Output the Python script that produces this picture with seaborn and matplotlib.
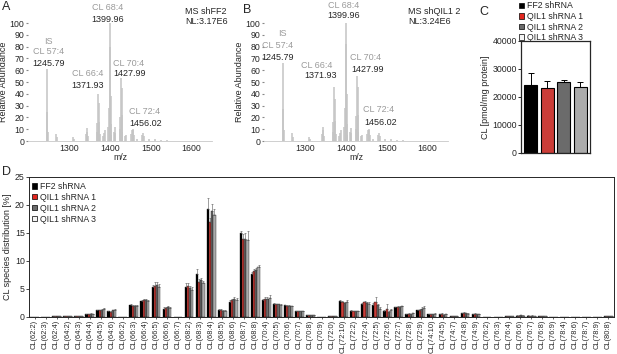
import matplotlib
matplotlib.use('Agg')
import matplotlib.pyplot as plt
import seaborn as sns
import pandas as pd
from matplotlib.patches import Patch

sns.set_style('ticks')
plt.rcParams['font.family'] = ['Liberation Sans', 'DejaVu Sans']
plt.rcParams['font.size'] = 6.3

# ---------------- data ----------------
spec_a_mz = [1245.79, 1246.8, 1247.8, 1268.8, 1269.8, 1311.0, 1313.0, 1341.9, 1343.9, 1344.9,
             1345.9, 1367.9, 1369.9, 1371.93, 1372.93, 1373.93, 1374.9, 1383.9, 1385.9, 1387.9,
             1395.9, 1397.9, 1399.96, 1400.96, 1401.96, 1402.96, 1403.9, 1409.9, 1411.9, 1412.9,
             1423.9, 1425.9, 1427.99, 1428.99, 1429.99, 1430.99, 1437.9, 1439.9, 1451.9, 1453.9,
             1456.02, 1457.02, 1458.02, 1466.0, 1479.9, 1481.9, 1482.9, 1495.0, 1510.0, 1525.0, 1540.0]
spec_a_int = [61, 25, 8, 6, 3, 3, 2, 6, 11, 8,
              4, 8, 15, 40, 32, 16, 6, 4, 7, 9,
              12, 28, 100, 80, 38, 14, 5, 8, 12, 7,
              10, 20, 53, 45, 22, 8, 4, 5, 6, 9,
              10, 9, 5, 2, 5, 7, 4, 1.5, 1.5, 1, 1]
spec_b_mz = spec_a_mz
spec_b_int = [66, 27, 9, 7, 3, 3, 2, 6, 12, 9,
              4, 8, 16, 46, 36, 17, 6, 4, 7, 9,
              12, 28, 100, 82, 40, 14, 5, 8, 11, 7,
              10, 21, 55, 46, 22, 8, 4, 5, 6, 9,
              10, 9, 5, 2, 5, 7, 4, 1.5, 1.5, 1, 1]

groups = ['FF2 shRNA', 'QIL1 shRNA 1', 'QIL1 shRNA 2', 'QIL1 shRNA 3']
colors = ['#000000', '#e3261f', '#6b6b6b', '#ababab']
cl_total = [24200, 23300, 25250, 23700]
cl_total_err = [4500, 2300, 800, 1800]

species = ['CL(62:2)', 'CL(62:3)', 'CL(62:4)', 'CL(64:2)', 'CL(64:3)', 'CL(64:4)', 'CL(64:5)',
           'CL(64:6)', 'CL(66:2)', 'CL(66:3)', 'CL(66:4)', 'CL(66:5)', 'CL(66:6)', 'CL(66:7)',
           'CL(68:2)', 'CL(68:3)', 'CL(68:4)', 'CL(68:5)', 'CL(68:6)', 'CL(68:7)', 'CL(68:8)',
           'CL(70:4)', 'CL(70:5)', 'CL(70:6)', 'CL(70:7)', 'CL(70:8)', 'CL(70:9)', 'CL(72:0)',
           'CL(72:10)', 'CL(72:2)', 'CL(72:4)', 'CL(72:5)', 'CL(72:6)', 'CL(72:7)', 'CL(72:8)',
           'CL(72:9)', 'CL(74:10)', 'CL(74:5)', 'CL(74:7)', 'CL(74:8)', 'CL(74:9)', 'CL(76:2)',
           'CL(76:3)', 'CL(76:4)', 'CL(76:6)', 'CL(76:7)', 'CL(76:8)', 'CL(76:9)', 'CL(78:4)',
           'CL(78:6)', 'CL(78:7)', 'CL(78:9)', 'CL(80:8)']
ff2 = [0.06, 0.03, 0.10, 0.22, 0.10, 0.50, 1.20, 1.00, 0.0, 2.10, 2.80, 5.30, 1.50, 0.0,
       5.40, 7.70, 19.2, 1.30, 2.70, 15.0, 7.70, 3.00, 2.40, 2.10, 1.00, 0.30, 0.05, 0.10,
       2.80, 1.10, 2.30, 2.20, 1.00, 1.70, 0.50, 1.20, 0.50, 0.50, 0.20, 0.70, 0.50, 0.05,
       0.05, 0.10, 0.25, 0.25, 0.15, 0.02, 0.03, 0.03, 0.02, 0.05, 0.10]
sh1 = [0.05, 0.03, 0.10, 0.20, 0.10, 0.55, 1.20, 0.90, 0.0, 2.00, 3.00, 5.60, 1.60, 0.0,
       5.60, 6.30, 16.9, 1.20, 3.00, 14.0, 8.20, 3.30, 2.30, 2.00, 1.00, 0.30, 0.05, 0.10,
       2.60, 1.00, 2.60, 2.60, 1.50, 1.80, 0.60, 1.30, 0.50, 0.60, 0.20, 0.80, 0.60, 0.05,
       0.05, 0.10, 0.25, 0.22, 0.15, 0.02, 0.03, 0.03, 0.02, 0.05, 0.10]
sh2 = [0.04, 0.02, 0.12, 0.22, 0.12, 0.60, 1.30, 1.20, 0.0, 1.90, 3.10, 5.70, 1.70, 0.0,
       5.20, 6.60, 18.9, 1.10, 3.20, 14.0, 8.40, 3.20, 2.30, 2.00, 1.00, 0.35, 0.05, 0.10,
       2.50, 1.00, 2.50, 2.10, 0.90, 1.80, 0.50, 1.50, 0.55, 0.40, 0.20, 0.70, 0.50, 0.05,
       0.05, 0.12, 0.30, 0.25, 0.15, 0.02, 0.03, 0.03, 0.02, 0.05, 0.10]
sh3 = [0.04, 0.03, 0.10, 0.20, 0.10, 0.55, 1.45, 1.25, 0.0, 2.00, 2.90, 5.40, 1.65, 0.0,
       4.90, 6.00, 18.3, 1.10, 3.10, 13.8, 8.90, 3.40, 2.20, 1.90, 1.00, 0.30, 0.05, 0.10,
       2.70, 1.00, 2.40, 1.50, 1.20, 1.90, 0.70, 1.60, 0.60, 0.50, 0.20, 0.60, 0.50, 0.05,
       0.05, 0.10, 0.25, 0.20, 0.15, 0.02, 0.03, 0.03, 0.02, 0.05, 0.10]
ff2_err = [0.01, 0.01, 0.02, 0.03, 0.02, 0.05, 0.10, 0.10, 0.0, 0.20, 0.20, 0.50, 0.20, 0.0,
           0.60, 0.80, 2.10, 0.20, 0.30, 0.30, 0.30, 0.20, 0.10, 0.10, 0.10, 0.05, 0.01, 0.02,
           0.20, 0.10, 0.20, 0.30, 0.20, 0.10, 0.10, 0.10, 0.05, 0.10, 0.03, 0.10, 0.05, 0.01,
           0.01, 0.02, 0.03, 0.03, 0.02, 0.01, 0.01, 0.01, 0.01, 0.01, 0.02]
sh1_err = [0.01, 0.01, 0.02, 0.03, 0.02, 0.05, 0.10, 0.10, 0.0, 0.20, 0.30, 0.60, 0.20, 0.0,
           0.40, 0.40, 0.80, 0.20, 0.30, 0.90, 0.40, 0.30, 0.10, 0.10, 0.10, 0.05, 0.01, 0.02,
           0.30, 0.10, 0.30, 1.00, 0.90, 0.10, 0.10, 0.10, 0.05, 0.10, 0.03, 0.10, 0.05, 0.01,
           0.01, 0.02, 0.03, 0.03, 0.02, 0.01, 0.01, 0.01, 0.01, 0.01, 0.02]
sh2_err = [0.01, 0.01, 0.02, 0.03, 0.02, 0.05, 0.10, 0.10, 0.0, 0.20, 0.20, 0.50, 0.20, 0.0,
           0.40, 0.40, 1.30, 0.10, 0.30, 1.00, 0.40, 0.30, 0.10, 0.10, 0.10, 0.05, 0.01, 0.02,
           0.20, 0.10, 0.20, 0.30, 0.20, 0.10, 0.10, 0.20, 0.05, 0.10, 0.03, 0.10, 0.05, 0.01,
           0.01, 0.02, 0.03, 0.03, 0.02, 0.01, 0.01, 0.01, 0.01, 0.01, 0.02]
sh3_err = [0.01, 0.01, 0.02, 0.03, 0.02, 0.05, 0.10, 0.10, 0.0, 0.20, 0.20, 0.50, 0.20, 0.0,
           0.40, 0.50, 1.00, 0.10, 0.30, 1.50, 0.40, 0.50, 0.10, 0.10, 0.10, 0.05, 0.01, 0.02,
           0.30, 0.10, 0.20, 0.30, 0.30, 0.10, 0.10, 0.30, 0.05, 0.10, 0.03, 0.10, 0.05, 0.01,
           0.01, 0.02, 0.03, 0.03, 0.02, 0.01, 0.01, 0.01, 0.01, 0.01, 0.02]

# ---------------- layout helpers ----------------
W, H = 617, 354
fig = plt.figure(figsize=(W / 100, H / 100), dpi=100)


def ax_px(l, t, r, b):
    return fig.add_axes([l / W, 1 - b / H, (r - l) / W, (b - t) / H])


def txt(x, y, s, **kw):
    kw.setdefault('ha', 'center')
    kw.setdefault('va', 'center')
    fig.text(x / W, 1 - y / H, s, **kw)


GRAY_TXT = '#9a9a9a'
SPEC = '#c4c4c4'


def spectrum(ax, mz, inten):
    ax.vlines(mz, 0, inten, color=SPEC, lw=1.1)
    ax.set_xlim(1200, 1650)
    ax.set_ylim(0, 100)
    ax.set_yticks(range(0, 101, 10))
    ax.set_xticks([1300, 1400, 1500, 1600])
    ax.tick_params(axis='x', length=0, pad=2, labelsize=6.3)
    ax.tick_params(axis='y', length=1.5, pad=1, labelsize=6.3, color='#888888')
    for s in ['top', 'right', 'left']:
        ax.spines[s].set_visible(False)
    ax.spines['bottom'].set_color('#c8c8c8')
    ax.spines['bottom'].set_linewidth(0.6)
    ax.set_ylabel('Relative Abundance', fontsize=6.5, labelpad=1)
    ax.set_xlabel('m/z', fontsize=6.3, labelpad=0)
    ax.patch.set_alpha(0)


# ---------------- panel A ----------------
axA = ax_px(28, 23, 212, 141)
spectrum(axA, spec_a_mz, spec_a_int)
txt(6, 7, 'A', fontsize=9)
txt(48, 42, 'IS', color=GRAY_TXT, fontsize=6.5)
txt(49, 52, 'CL 57:4', color=GRAY_TXT, fontsize=6.5)
txt(49, 63, '1245.79', fontsize=6.5)
txt(88, 73, 'CL 66:4', color=GRAY_TXT, fontsize=6.5)
txt(88, 85, '1371.93', fontsize=6.5)
txt(108, 8, 'CL 68:4', color=GRAY_TXT, fontsize=6.5)
txt(108, 19, '1399.96', fontsize=6.5)
txt(129, 63, 'CL 70:4', color=GRAY_TXT, fontsize=6.5)
txt(130, 74, '1427.99', fontsize=6.5)
txt(145, 112, 'CL 72:4', color=GRAY_TXT, fontsize=6.5)
txt(146, 124, '1456.02', fontsize=6.5)
txt(185, 11, 'MS shFF2', ha='left', fontsize=6.5)
txt(185, 22, 'NL:3.17E6', ha='left', fontsize=6.5)

# ---------------- panel B ----------------
axB = ax_px(264, 23, 448, 141)
spectrum(axB, spec_b_mz, spec_b_int)
txt(247, 10, 'B', fontsize=9)
txt(282, 34, 'IS', color=GRAY_TXT, fontsize=6.5)
txt(278, 45, 'CL 57:4', color=GRAY_TXT, fontsize=6.5)
txt(278, 57, '1245.79', fontsize=6.5)
txt(317, 66, 'CL 66:4', color=GRAY_TXT, fontsize=6.5)
txt(321, 76, '1371.93', fontsize=6.5)
txt(344, 5, 'CL 68:4', color=GRAY_TXT, fontsize=6.5)
txt(344, 16, '1399.96', fontsize=6.5)
txt(366, 57, 'CL 70:4', color=GRAY_TXT, fontsize=6.5)
txt(368, 69, '1427.99', fontsize=6.5)
txt(379, 110, 'CL 72:4', color=GRAY_TXT, fontsize=6.5)
txt(381, 122, '1456.02', fontsize=6.5)
txt(408, 11, 'MS shQIL1 2', ha='left', fontsize=6.5)
txt(408, 22, 'NL:3.24E6', ha='left', fontsize=6.5)

# ---------------- panel C ----------------
axC = ax_px(521, 41, 590, 153)
dfc = pd.DataFrame({'group': groups, 'cl': cl_total})
sns.barplot(data=dfc, x='group', y='cl', hue='group', order=groups, hue_order=groups,
            palette=colors, edgecolor='black', linewidth=0.8, width=0.8,
            errorbar=None, legend=False, ax=axC)
for cont, e in zip(axC.containers, cl_total_err):
    for bar in cont:
        axC.errorbar(bar.get_x() + bar.get_width() / 2, bar.get_height(),
                     yerr=[[0], [e]], fmt='none', ecolor='black', elinewidth=0.7,
                     capsize=2, capthick=0.7)
axC.set_ylim(0, 40000)
axC.set_yticks([0, 10000, 20000, 30000, 40000])
axC.set_xticks([])
axC.set_xlabel('')
axC.set_ylabel('CL [pmol/mg protein]', fontsize=6.5, labelpad=2)
axC.tick_params(axis='y', length=2, pad=1, labelsize=6.3, width=0.7)
for s in axC.spines.values():
    s.set_linewidth(0.9)
txt(484, 12, 'C', fontsize=9)
handles = [Patch(facecolor=c, edgecolor='black', linewidth=0.5) for c in ['#000000', '#e3261f', '#6b6b6b', '#f4f4f4']]
fig.legend(handles, groups, loc='upper left', bbox_to_anchor=(518 / W, 1 - 0.5 / H),
           frameon=False, fontsize=6.3, handlelength=0.6, handleheight=0.6,
           handletextpad=0.3, labelspacing=0.18, borderpad=0.1, borderaxespad=0)

# ---------------- panel D ----------------
axD = ax_px(29, 177, 614, 317)
dfd = pd.DataFrame({
    'species': species * 4,
    'value': ff2 + sh1 + sh2 + sh3,
    'group': [g for g in groups for _ in species],
})
sns.barplot(data=dfd, x='species', y='value', hue='group', order=species, hue_order=groups,
            palette=colors, edgecolor='black', linewidth=0.25, width=0.8,
            errorbar=None, legend=False, ax=axD)
for cont, errs in zip(axD.containers, [ff2_err, sh1_err, sh2_err, sh3_err]):
    for bar, e in zip(cont, errs):
        if e > 0:
            axD.errorbar(bar.get_x() + bar.get_width() / 2, bar.get_height(),
                         yerr=[[0], [e]], fmt='none', ecolor='#555555', elinewidth=0.4,
                         capsize=0.8, capthick=0.4)
axD.set_ylim(0, 25)
axD.set_xlim(-0.5, len(species) - 0.5)
axD.set_yticks([0, 5, 10, 15, 20, 25])
axD.set_xlabel('')
axD.set_ylabel('CL species distribution [%]', fontsize=6.5, labelpad=2)
axD.tick_params(axis='y', length=2, pad=1, labelsize=6.3, width=0.6)
axD.tick_params(axis='x', length=1.2, pad=0.8, labelsize=5.4, width=0.5, rotation=90)
for s in axD.spines.values():
    s.set_linewidth(0.7)
txt(6, 172, 'D', fontsize=9)
axD.legend(handles, groups, loc='upper left', bbox_to_anchor=(2 / 585, 1 - 4 / 140),
           frameon=False, fontsize=6.3, handlelength=0.6, handleheight=0.6,
           handletextpad=0.3, labelspacing=0.22, borderpad=0.1, borderaxespad=0)

fig.savefig('out.png', dpi=100)
